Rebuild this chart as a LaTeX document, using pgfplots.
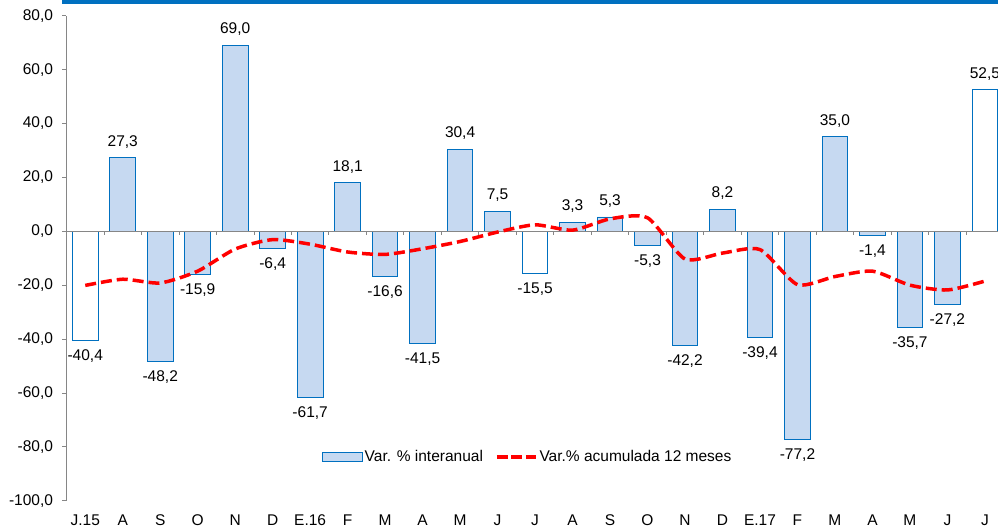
\documentclass[border=0pt]{standalone}
\usepackage{pgfplots}
\usepackage{pgfplotstable}
\pgfplotsset{compat=1.18}
\usepackage{fontspec}
\setmainfont{Liberation Sans}
\definecolor{barfill}{HTML}{C6D9F1}
\definecolor{baredge}{HTML}{0070C0}
\definecolor{axgray}{HTML}{868686}
\definecolor{topblue}{HTML}{0070C0}

\pgfplotstableread{
x y
1 27.3
2 -48.2
3 -15.9
4 69.0
5 -6.4
6 -61.7
7 18.1
8 -16.6
9 -41.5
10 30.4
11 7.5
13 3.3
14 5.3
15 -5.3
16 -42.2
17 8.2
18 -39.4
19 -77.2
20 35.0
21 -1.4
22 -35.7
23 -27.2
}\bluebars

\pgfplotstableread{
x y
0 -40.4
12 -15.5
24 52.5
}\whitebars

\pgfplotstableread{
x y
0 -20.1
1 -17.8
2 -19.2
3 -14.8
4 -6.6
5 -3.1
6 -4.8
7 -7.7
8 -8.6
9 -6.5
10 -3.8
11 -0.3
12 2.4
13 0.4
14 4.6
15 5.0
16 -10.3
17 -8.1
18 -6.8
19 -19.8
20 -16.8
21 -14.8
22 -20.0
23 -21.8
24 -18.5
}\linedata

\begin{document}
\begin{tikzpicture}
\useasboundingbox (-66.5pt,-27.3pt) rectangle (931.5pt,500.7pt);
\fill[topblue] (-4.5pt,497pt) rectangle (931.5pt,500.7pt);
\begin{axis}[
  at={(0pt,0pt)}, anchor=south west,
  width=931.5pt, height=485pt, scale only axis,
  xmin=-0.5, xmax=24.35, ymin=-100, ymax=80,
  separate axis lines,
  axis y line*=left, axis x line*=bottom,
  x axis line style={draw=none},
  y axis line style={axgray, line width=0.8pt},
  xtick={0,...,24},
  xticklabels={J.15,A,S,O,N,D,E.16,F,M,A,M,J,J,A,S,O,N,D,E.17,F,M,A,M,J,J},
  major x tick style={draw=none},
  ytick={-100,-80,...,80},
  major y tick style={axgray, line width=0.8pt},
  tick align=outside, major tick length=4pt,
  yticklabel={\pgfmathprintnumber[fixed,fixed zerofill,precision=1,use comma]{\tick}},
  /pgf/number format/assume math mode=true,
  tick label style={font=\fontsize{15.5}{17}\selectfont},
  xticklabel style={anchor=base, yshift=-21pt, inner sep=0pt},
  yticklabel style={xshift=-6pt},
  nodes near coords,
  nodes near coords align=vertical,
  every node near coord/.append style={font=\fontsize{15.5}{17}\selectfont, inner xsep=0pt, inner ysep=9pt,
    /pgf/number format/.cd, fixed, fixed zerofill, precision=1, use comma, assume math mode=true},
  legend style={at={(0.495,0.09)}, anchor=center, draw=none, fill=none,
    font=\fontsize{15.5}{17}\selectfont, legend columns=2,
    /tikz/every even column/.append style={column sep=10pt},
    inner sep=0pt},
  legend cell align=left,
  clip=false,
]
\addplot[ybar, bar width=25.6pt, bar shift=0pt, fill=barfill, draw=baredge, line width=0.9pt,
  legend image code/.code={\draw[fill=barfill,draw=baredge,line width=0.9pt] (0pt,-4.5pt) rectangle (40pt,4.5pt);}]
  table[x=x,y=y] {\bluebars};
\addlegendentry{Var. \% interanual}
\addplot[ybar, bar width=25.6pt, bar shift=0pt, fill=white, draw=baredge, line width=0.9pt, forget plot]
  table[x=x,y=y] {\whitebars};
\draw[axgray, line width=0.8pt] (axis cs:-0.5,0) -- (axis cs:24.35,0);
\pgfplotsinvokeforeach{0,...,23}{\draw[axgray, line width=0.8pt] (axis cs:#1+0.5,0) -- ++(0pt,-4pt);}
\addplot[red, line width=3.5pt, dash pattern=on 11pt off 5pt, smooth, tension=0.4, nodes near coords=,
  no marks,
  legend image code/.code={\draw[red, line width=3.5pt, dash pattern=on 11pt off 3.5pt] (0pt,0pt) -- (39pt,0pt);}]
  table[x=x,y=y] {\linedata};
\addlegendentry{Var.\% acumulada 12 meses}
\end{axis}
\end{tikzpicture}
\end{document}
